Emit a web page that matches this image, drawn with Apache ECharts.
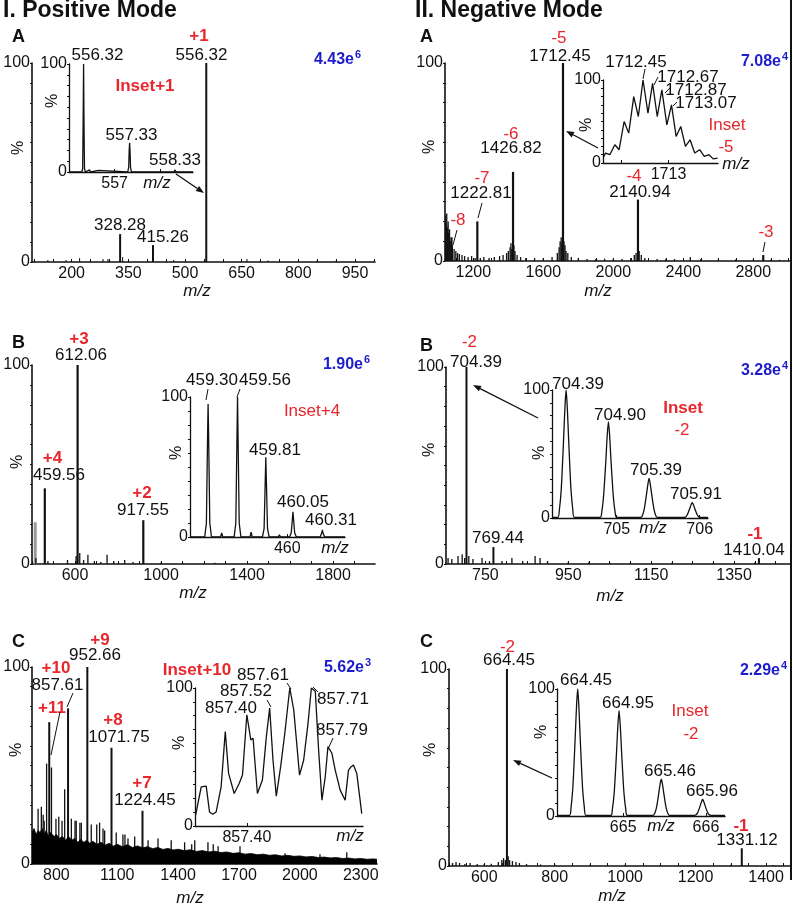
<!DOCTYPE html>
<html><head><meta charset="utf-8">
<script src="https://cdn.jsdelivr.net/npm/echarts@6/dist/echarts.min.js"></script>
<style>html,body{margin:0;padding:0;background:#fff}#c{width:793px;height:907px}</style>
</head><body><div id="c"></div>
<script>
// ---------------- DATA (m/z, relative intensity %) ----------------
// I.A positive mode
const posA_ticks = [200, 350, 500, 650, 800, 950];
const posA_main = [[556.32,100],[328.28,14],[415.26,8.5]];
const posA_noise = [[137,1],[185,1],[221,2],[283,1.5],[296,1.5],[300,1],[335,2.5],[470,1],[664,1.5],[720,0.8],[850,0.8],[900,0.6]];
const posA_inset_ticks = [557];
const posA_inset = [[556.00,0],[556.28,0],[556.30,3],[556.31,45],[556.32,100],[556.33,40],[556.34,3],[556.36,0],[556.45,2],[556.47,0],[556.65,1.5],[556.67,0],[557.29,0],[557.31,5],[557.32,20],[557.33,27],[557.34,18],[557.35,4],[557.37,0],[558.31,0],[558.32,2],[558.33,3],[558.34,2],[558.35,0],[558.72,0]];

// II.A negative mode
const negA_ticks = [1200, 1600, 2000, 2400, 2800];
const negA_main = [[1712.45,100],[1426.82,45],[1222.81,20],[2140.94,31],[2857,3],[1075,12]];
const negA_noise = [[1040,23],[1044,19],[1048,24],[1052,17],[1056,20],[1060,14],[1064,16],[1068,10],[1080,8],[1090,6],[1100,5],[1110,4],[1120,3.5],[1135,3],[1150,2.5],[1170,2],[1190,2.5],[1210,1.5],[1240,1.5],[1260,2],[1290,1.5],[1320,2],[1350,2.5],[1370,3],[1390,4],[1400,5],[1410,7],[1415,9],[1420,6],[1432,8],[1438,5],[1450,3],[1470,2],[1500,1.5],[1550,1.5],[1600,1.5],[1650,2],[1680,4],[1690,7],[1696,10],[1702,12],[1706,9],[1718,10],[1724,8],[1730,5],[1740,4],[1760,2],[1800,1.5],[1850,1],[1900,1],[1950,1.2],[2000,1],[2050,1],[2100,1.5],[2120,3],[2130,4],[2148,5],[2160,3],[2180,1.5],[2250,1],[2300,1],[2350,1],[2440,2],[2500,1],[2600,0.8],[2700,0.8],[2800,0.8],[2900,0.6],[2950,0.6]];
const negA_inset_ticks = [1713];
const negA_inset = [[1711.629,8],[1711.664,12],[1711.755,10],[1711.861,22],[1711.952,16],[1712.058,50],[1712.156,36],[1712.262,80],[1712.360,56],[1712.459,100],[1712.564,60],[1712.662,96],[1712.761,56],[1712.859,88],[1712.965,46],[1713.063,70],[1713.162,32],[1713.260,44],[1713.359,20],[1713.457,28],[1713.556,12],[1713.661,16],[1713.759,8],[1713.858,10],[1713.949,5],[1714.041,6]];

// I.B positive mode
const posB_ticks = [600, 1000, 1400, 1800];
const posB_main = [[612.06,100],[459.56,38],[917.55,22]];
const posB_gray = [[415,21]];
const posB_noise = [[418,3],[474,1.5],[565,2],[605,4],[622,5.5],[640,2],[660,4.6],[690,1.5],[720,1],[749,4.6],[780,1.5],[831,2],[870,1],[1000,0.8],[1100,0.6],[1250,0.6],[1500,0.5],[1700,0.5]];
const posB_inset_ticks = [460];
const posB_inset = [[459.14,0],[459.27,0],[459.285,10],[459.295,70],[459.30,95],[459.305,70],[459.315,10],[459.33,0],[459.41,0],[459.42,3],[459.43,0],[459.53,0],[459.545,10],[459.555,70],[459.56,100],[459.565,70],[459.575,10],[459.59,0],[459.67,0],[459.68,3.5],[459.69,0],[459.78,0],[459.795,6],[459.805,40],[459.81,57],[459.815,40],[459.825,6],[459.84,0],[459.92,0],[459.93,1.5],[459.94,0],[460.02,0],[460.035,3],[460.045,13],[460.05,18],[460.055,13],[460.065,3],[460.08,0],[460.29,0],[460.305,3],[460.31,5],[460.315,3],[460.33,0],[460.51,0]];

// II.B negative mode
const negB_ticks = [750, 950, 1150, 1350];
const negB_main = [[704.39,100],[769.44,8.6],[1410.04,3]];
const negB_noise = [[660,3],[669,2.5],[684,4],[694,5],[700,3],[710,4],[720,2.5],[742,3],[760,1.5],[790,1.5],[814,3],[840,1.5],[870,4],[882,3],[900,1.5],[950,1],[1000,1],[1050,0.8],[1100,0.8],[1200,0.6],[1300,0.6],[1400,0.8],[1450,0.6]];
const negB_inset_ticks = [705, 706];
const negB_inset = [[704.22,0.5],[704.29,0.5],[704.31,7],[704.33,21],[704.345,40],[704.36,62],[704.375,85],[704.39,100],[704.405,85],[704.42,62],[704.435,40],[704.45,21],[704.47,7],[704.49,0.5],[704.80,0.5],[704.82,5],[704.84,16],[704.855,30],[704.87,46],[704.885,64],[704.90,75],[704.915,64],[704.93,46],[704.945,30],[704.96,16],[704.98,5],[705.00,0.5],[705.29,0.5],[705.31,2],[705.33,6.5],[705.345,12.4],[705.36,19],[705.375,26],[705.39,31],[705.405,26],[705.42,19],[705.435,12.4],[705.45,6.5],[705.47,2],[705.49,0.5],[705.81,0.5],[705.83,0.8],[705.85,2.5],[705.865,4.8],[705.88,7.4],[705.895,10.2],[705.91,12],[705.925,10.2],[705.94,7.4],[705.955,4.8],[705.97,2.5],[705.99,0.8],[706.01,0.5],[706.10,0.5]];

// I.C positive mode
const posC_ticks = [800, 1100, 1400, 1700, 2000, 2300];
const posC_main = [[952.66,100],[857.61,79],[765,72],[1071.75,59],[1224.45,27]];
const posC_spikes = [[710,28],[726,29],[735,25],[740,22],[752,51],[776,49],[798,23],[812,24],[828,22],[841,38],[874,23],[892,22],[898,22],[916,21],[923,21],[972,20],[999,20],[1013,21],[1030,18],[1038,17],[1095,16],[1128,15],[1138,15],[1153,13],[1186,14],[1252,12],[1301,13],[1366,12],[1432,11],[1467,10],[1482,12],[1547,11],[1573,10],[1597,9],[1705,9],[1927,5.5],[2099,5],[2231,6]];
const posC_noise = [[680,16],[690,18],[700,15],[710,17],[720,16],[730,18],[740,15],[750,17],[760,14],[770,16],[780,15],[790,14],[800,15],[815,13],[830,14],[845,12],[860,14],[875,12],[890,13],[905,11],[920,12.5],[935,11],[950,12],[965,10.5],[980,11.5],[1000,10],[1020,11],[1040,9.5],[1060,10.5],[1080,9],[1100,10],[1125,8.8],[1150,9.8],[1175,8.4],[1200,9.2],[1225,8.2],[1250,8.8],[1275,7.8],[1300,8.4],[1325,7.4],[1350,7.9],[1375,7.1],[1400,7.5],[1430,6.8],[1460,7.2],[1490,6.4],[1520,6.8],[1550,6.1],[1580,6.5],[1610,5.8],[1640,6.1],[1670,5.4],[1700,5.7],[1730,5],[1760,5.3],[1790,4.7],[1820,5],[1850,4.4],[1880,4.7],[1910,4.1],[1940,4.4],[1970,3.9],[2000,4.1],[2030,3.6],[2060,3.8],[2090,3.3],[2120,3.5],[2150,3.1],[2180,3.3],[2210,2.8],[2240,3],[2270,2.6],[2300,2.8],[2330,2.4],[2360,2.6],[2380,2.4]];
const posC_inset_ticks = [857.40];
const posC_inset = [[857.153,7.8],[857.180,28.4],[857.204,28.9],[857.220,10.2],[857.236,8.5],[857.252,10.2],[857.276,28.4],[857.296,68.4],[857.312,38.1],[857.339,23.5],[857.363,30.8],[857.379,36.9],[857.400,80.6],[857.419,62.4],[857.430,63.6],[857.451,23.5],[857.475,33.3],[857.494,64.8],[857.510,85.4],[857.526,47.8],[857.542,21.6],[857.563,43.0],[857.583,67.2],[857.607,100],[857.626,84.2],[857.654,36.9],[857.674,47.8],[857.695,74.5],[857.711,100],[857.730,97.6],[857.746,55.1],[857.762,18.7],[857.778,35.7],[857.791,57.5],[857.810,52.7],[857.826,40.5],[857.850,26.0],[857.874,18.7],[857.890,40.5],[857.903,43.0],[857.914,44.2],[857.930,38.1],[857.954,9.0]];

// II.C negative mode
const negC_ticks = [600, 800, 1000, 1200, 1400];
const negC_main = [[664.45,100],[1331.12,9]];
const negC_noise = [[510,1.5],[520,2],[530,1.5],[545,1],[560,1.5],[580,1],[600,1],[620,1.2],[640,2],[650,3],[655,4],[660,3],[668,5],[672,3],[680,2.5],[690,2],[700,1.5],[720,1],[760,0.8],[800,0.8],[900,0.6],[1000,0.6],[1100,0.5],[1200,0.5],[1300,0.6],[1420,0.5]];
const negC_inset_ticks = [665, 666];
const negC_inset = [[664.20,0.5],[664.35,0.5],[664.37,7],[664.39,21],[664.405,40],[664.42,62],[664.435,85],[664.45,100],[664.465,85],[664.48,62],[664.495,40],[664.51,21],[664.53,7],[664.55,0.5],[664.85,0.5],[664.87,5.8],[664.89,17.4],[664.905,33],[664.92,51],[664.935,70.5],[664.95,83],[664.965,70.5],[664.98,51],[664.995,33],[665.01,17.4],[665.03,5.8],[665.05,0.5],[665.36,0.5],[665.38,2],[665.40,6],[665.415,11.6],[665.43,18],[665.445,24.7],[665.46,29],[665.475,24.7],[665.49,18],[665.505,11.6],[665.52,6],[665.54,2],[665.56,0.5],[665.86,0.5],[665.88,0.9],[665.90,2.7],[665.915,5.2],[665.93,8],[665.945,11],[665.96,13],[665.975,11],[665.99,8],[666.005,5.2],[666.02,2.7],[666.04,0.9],[666.06,0.5],[666.23,0.5]];

// ---------------- LAYOUT ----------------
const FONT = '"Liberation Sans", Arial, Helvetica, sans-serif';
const panels = [
  {grid:{left:32,top:63,width:343,height:199}, x:[95,1003], labels:posA_ticks, minor:50, main:true},
  {grid:{left:69,top:64,width:124,height:108}, x:[556.0,558.72], labels:posA_inset_ticks, ticks:[557,558]},
  {grid:{left:445,top:63,width:345,height:198}, x:[1038,3010], labels:negA_ticks, minor:100, main:true},
  {grid:{left:603,top:80,width:115,height:83}, x:[1711.61,1714.05], labels:negA_inset_ticks, ticks:[1712,1713]},
  {grid:{left:32,top:365,width:343,height:199}, x:[400,1995], labels:posB_ticks, minor:100, main:true},
  {grid:{left:190,top:397,width:155,height:140}, x:[459.14,460.51], labels:posB_inset_ticks, ticks:[460]},
  {grid:{left:446,top:367,width:344,height:197}, x:[655,1485], labels:negB_ticks, minor:50, main:true},
  {grid:{left:552,top:390,width:156,height:128}, x:[704.22,706.10], labels:negB_inset_ticks, ticks:[705,706]},
  {grid:{left:32,top:667,width:345,height:197}, x:[680,2380], labels:posC_ticks, minor:100, main:true},
  {grid:{left:195,top:688,width:168,height:138}, x:[857.15,857.96], labels:posC_inset_ticks, ticks:[857.40], fixed2:true},
  {grid:{left:449,top:669,width:341,height:197}, x:[500,1468], labels:negC_ticks, minor:50, main:true},
  {grid:{left:557,top:689,width:168,height:127}, x:[664.20,666.23], labels:negC_inset_ticks, ticks:[665,666]}
];

const grids = [], xAxes = [], yAxes = [];
panels.forEach((p, i) => {
  grids.push(Object.assign({containLabel:false}, p.grid));
  let ticks = p.ticks;
  if (p.main) {
    ticks = [];
    for (let v = Math.ceil(p.x[0]/p.minor)*p.minor; v <= p.x[1]; v += p.minor) ticks.push(v);
  }
  const lw = p.main ? 1.6 : 1.3;
  xAxes.push({type:'value', gridIndex:i, min:p.x[0], max:p.x[1],
    axisLine:{show:true, onZero:false, lineStyle:{color:'#111', width:lw}},
    axisTick:{show:true, customValues:ticks, inside:true, length:3, lineStyle:{color:'#111', width:1}},
    axisLabel:{show:true, customValues:p.labels, fontSize:16, color:'#111', fontFamily:FONT, margin:4,
      formatter: v => p.fixed2 ? Number(v).toFixed(2) : String(Math.round(v))},
    splitLine:{show:false}});
  yAxes.push({type:'value', gridIndex:i, min:0, max:100, interval:10,
    axisLine:{show:true, lineStyle:{color:'#111', width:lw}},
    axisTick:{show:true, length:2, lineStyle:{color:'#111', width:1}},
    axisLabel:{show:true, fontSize:16, color:'#111', fontFamily:FONT, margin:2,
      formatter: v => (v === 0 || v === 100) ? String(v) : ''},
    splitLine:{show:false}});
});

function sticks(gi, data, width, color) {
  return {type:'custom', coordinateSystem:'cartesian2d', xAxisIndex:gi, yAxisIndex:gi, data, encode:{x:0,y:1}, clip:true, silent:true,
    renderItem:(params, api) => {
      const a = api.coord([api.value(0), 0]), b = api.coord([api.value(0), api.value(1)]);
      return {type:'line', shape:{x1:a[0], y1:a[1], x2:b[0], y2:b[1]}, style:{stroke:color || '#111', lineWidth:width}};
    }};
}
function profile(gi, data, smooth) {
  return {type:'line', xAxisIndex:gi, yAxisIndex:gi, data, symbol:'none', showSymbol:false, smooth:smooth||false, clip:true, silent:true,
    lineStyle:{color:'#111', width:1.3}};
}

const series = [
  sticks(0, posA_noise, 1), sticks(0, posA_main, 2), profile(1, posA_inset),
  sticks(2, negA_noise, 1.3), sticks(2, negA_main, 2.2), profile(3, negA_inset),
  sticks(4, posB_gray, 3, '#9a9a9a'), sticks(4, posB_noise, 1.3), sticks(4, posB_main, 2.2), profile(5, posB_inset),
  sticks(6, negB_noise, 1.3), sticks(6, negB_main, 2), profile(7, negB_inset, 0.3),
  {type:'line', xAxisIndex:8, yAxisIndex:8, data:posC_noise, symbol:'none', clip:true, silent:true,
    lineStyle:{color:'#000', width:0.8}, areaStyle:{color:'#000', opacity:1}},
  sticks(8, posC_spikes, 1.3), sticks(8, posC_main, 2), profile(9, posC_inset),
  sticks(10, negC_noise, 1.3), sticks(10, negC_main, 2), profile(11, negC_inset, 0.3)
];

// ---------------- ANNOTATIONS ----------------
const RED = '#e8262c', BLUE = '#1d1dcc';
function txt(x, y, s, o) {
  o = o || {};
  const size = o.size || 17, weight = o.weight || 'normal', fst = o.fst || 'normal', align = o.align || 'center';
  return {type:'text', x, y, rotation:o.rot || 0, z:100, silent:true,
    style:{text:s, fill:o.color || '#111', font:`${fst} ${weight} ${size}px ${FONT}`,
      textAlign:align, textVerticalAlign:'middle', align:align, verticalAlign:'middle'}};
}
function seg(x1, y1, x2, y2) {
  return {type:'line', z:100, silent:true, shape:{x1, y1, x2, y2}, style:{stroke:'#111', lineWidth:1}};
}
function arrow(x1, y1, x2, y2) {
  const ang = Math.atan2(y2 - y1, x2 - x1), L = 8, W = 3;
  const bx = x2 - L*Math.cos(ang), by = y2 - L*Math.sin(ang);
  const px = -Math.sin(ang)*W, py = Math.cos(ang)*W;
  return [{type:'line', z:100, silent:true, shape:{x1, y1, x2:bx, y2:by}, style:{stroke:'#111', lineWidth:1.3}},
          {type:'polygon', z:100, silent:true, shape:{points:[[x2,y2],[bx+px,by+py],[bx-px,by-py]]}, style:{fill:'#111'}}];
}
const black = [
  [201.5,55.5,'556.32'],[120,225,'328.28'],[163,237,'415.26'],[97.5,55.5,'556.32'],[131.5,135,'557.33'],[175,160,'558.33'],
  [560,56,'1712.45'],[511,148,'1426.82'],[481,193,'1222.81'],[640,192,'2140.94'],[636,62,'1712.45'],[688,77,'1712.67'],[696,90,'1712.87'],[706,103,'1713.07'],
  [81,355,'612.06'],[59,475,'459.56'],[143,510,'917.55'],[212,380,'459.30'],[265,380,'459.56'],[275,450,'459.81'],[303,502,'460.05'],[331,520,'460.31'],
  [476,362,'704.39'],[498,538,'769.44'],[754,550,'1410.04'],[578,384.5,'704.39'],[620,415,'704.90'],[656,470,'705.39'],[696,494,'705.91'],
  [95,655.5,'952.66'],[57.5,685,'857.61'],[119,737,'1071.75'],[145,800,'1224.45'],[263,675,'857.61'],[246,691.5,'857.52'],[231,708.5,'857.40'],[343,699,'857.71'],[342,730,'857.79'],
  [509,660,'664.45'],[747,840,'1331.12'],[586,680,'664.45'],[628,703.5,'664.95'],[670,771,'665.46'],[712,791.5,'665.96']
];
const red = [
  [199,36,'+1',1],[145,86,'Inset+1',1],
  [559,38,'-5',0],[511,134,'-6',0],[482,178,'-7',0],[458,220,'-8',0],[634,176,'-4',0],[766,232,'-3',0],[727,125,'Inset',0],[726,147,'-5',0],
  [79,339,'+3',1],[52.5,458,'+4',1],[142,493,'+2',1],[312,411,'Inset+4',0],
  [469.5,342,'-2',0],[755,534,'-1',1],[683,408,'Inset',1],[682,430,'-2',0],
  [100,640,'+9',1],[56,668.5,'+10',1],[52,708.5,'+11',1],[113,720,'+8',1],[142,783,'+7',1],[197,670,'Inset+10',1],
  [507.5,647.5,'-2',0],[741,826,'-1',1],[690,711.5,'Inset',0],[691,734,'-2',0]
];
const blue = [[354,60,'4.43e','6'],[781,62,'7.08e','4'],[363,365,'1.90e','6'],[781,371,'3.28e','4'],[364,668,'5.62e','3'],[780,671,'2.29e','4']];
const mz = [[197,291],[598,291],[193,593],[610,596],[190,898],[612,896],[157,183],[335,548],[350,836],[736,164],[653,528],[661,826]];
const pct = [[19,148],[430,147],[18,462],[430,450],[17,750],[431,750],[52.5,101],[177,453],[180,743],[587,125],[540,453],[542,732]];

const els = [];
els.push(txt(3, 11, 'I. Positive Mode', {size:23, weight:'bold', align:'left'}));
els.push(txt(415, 11, 'II. Negative Mode', {size:23, weight:'bold', align:'left'}));
[[12,37,'A'],[420,37,'A'],[12,343,'B'],[420,346,'B'],[12,642,'C'],[420,642,'C']].forEach(a => els.push(txt(a[0], a[1], a[2], {size:18, weight:'bold', align:'left'})));
black.forEach(a => els.push(txt(a[0], a[1], a[2])));
red.forEach(a => els.push(txt(a[0], a[1], a[2], {color:RED, weight:a[3] ? 'bold' : 'normal'})));
blue.forEach(a => { els.push(txt(a[0], a[1], a[2], {color:BLUE, weight:'bold', size:16, align:'right'}));
                    els.push(txt(a[0] + 1, a[1] - 5, a[3], {color:BLUE, weight:'bold', size:11, align:'left'})); });
mz.forEach(a => els.push(txt(a[0], a[1], 'm/z', {fst:'italic'})));
pct.forEach(a => els.push(txt(a[0], a[1], '%', {size:16, rot:Math.PI/2})));
[[482,203,478,218],[457,230,453,245],[765,242,763,252],[645,69,643,79],[658,77,654,85],[670,88,665,93],[677,102,673,106],
 [208,389,206,400],[240,389,237,397],[73,693,67,707],[60,712,51,755],[287,683,291,689],[267,700,271,707],[313,687,318,692],[333,738,329,747]
].forEach(s => els.push(seg(s[0], s[1], s[2], s[3])));
[[176,174,204,193],[598,148,566,131],[538,418,473,385],[552,778,513,760]].forEach(a => arrow(a[0],a[1],a[2],a[3]).forEach(e => els.push(e)));
els.push({type:'line', z:100, silent:true, shape:{x1:791, y1:0, x2:791, y2:880}, style:{stroke:'#111', lineWidth:2}});

const chart = echarts.init(document.getElementById('c'), null, {renderer:'canvas'});
chart.setOption({
  animation:false, backgroundColor:'#fff',
  textStyle:{fontFamily:FONT},
  grid:grids, xAxis:xAxes, yAxis:yAxes, series,
  graphic:{elements:els}
});
</script></body></html>
